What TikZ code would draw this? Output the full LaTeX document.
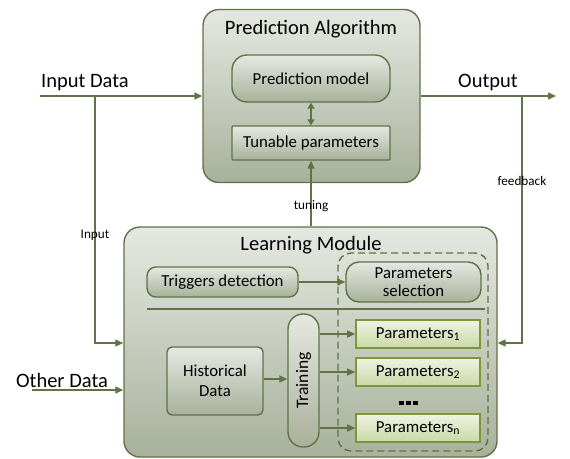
\documentclass[tikz,border=0pt]{standalone}
\usepackage{fontspec}
\setmainfont{Carlito}
\usetikzlibrary{arrows.meta,positioning}
\definecolor{lineC}{HTML}{5F7345}
\definecolor{topC}{HTML}{E5E8E1}
\definecolor{botC}{HTML}{A8B19B}
\definecolor{pline}{HTML}{7A973A}
\definecolor{ptop}{HTML}{EFF3E2}
\definecolor{pbot}{HTML}{CAD8A6}
\tikzset{
  gbox/.style={draw=lineC, line width=1.4pt, top color=topC, bottom color=botC, inner sep=0pt, align=center, text=black},
  pbox/.style={draw=pline, line width=1.6pt, top color=ptop, bottom color=pbot, inner sep=0pt, minimum width=124pt, minimum height=28pt, font=\fontsize{16.8}{19}\selectfont},
  arr/.style={draw=lineC, line width=1.3pt, -{Triangle[length=8pt,width=7pt]}},
  ln/.style={draw=lineC, line width=1.3pt},
  big/.style={font=\fontsize{20.5}{24}\selectfont},
  mid/.style={font=\fontsize{16.8}{19}\selectfont},
  small/.style={font=\fontsize{13.2}{15}\selectfont}
}
\begin{document}
\begin{tikzpicture}[x=1pt,y=-1pt]
\useasboundingbox (0,0) rectangle (570,458);
% Prediction algorithm
\node[gbox, rounded corners=16pt, minimum width=217pt, minimum height=173pt] (PA) at (311.5,96) {};
\node[big] (PAt) at (311,29) {Prediction Algorithm};
\node[gbox, rounded corners=15pt, minimum width=158pt, minimum height=47pt, mid] (PM) at (311,78.5) {Prediction model};
\node[gbox, rounded corners=1pt, minimum width=158pt, minimum height=34pt, mid] (TP) at (311,143) {Tunable parameters};
\draw[ln, {Triangle[length=6pt,width=7pt]}-{Triangle[length=6pt,width=7pt]}] (PM.south) -- (TP.north);
% Learning module
\node[gbox, rounded corners=16pt, minimum width=373pt, minimum height=230pt] (LM) at (310.5,342) {};
\node[big] (LMt) at (311,245) {Learning Module};
\node[draw=lineC, line width=1.4pt, dashed, dash pattern=on 7pt off 4pt, rounded corners=13pt, minimum width=150pt, minimum height=198pt, inner sep=0pt] (DB) at (413,352) {};
\node[gbox, rounded corners=9pt, minimum width=151pt, minimum height=30pt, mid] (TD) at (222.5,282) {Triggers detection};
\node[gbox, rounded corners=13pt, minimum width=135pt, minimum height=40pt, align=center, font=\fontsize{16.8}{18.5}\selectfont] (PS) at (413.5,282) {Parameters\\selection};
\coordinate (SL) at (147,309);
\coordinate (SR) at (485,309);
\draw[ln] (SL) -- (SR);
\node[gbox, rounded corners=5pt, minimum width=96pt, minimum height=68pt, align=center, font=\fontsize{16.8}{20}\selectfont] (HD) at (215,381) {Historical\\Data};
\node[gbox, rounded corners=15pt, minimum width=31pt, minimum height=133pt] (TR) at (303.5,380.5) {};
\node[font=\fontsize{17.5}{19}\selectfont, rotate=90] (TRt) at (TR.center) {Training};
\node[pbox] (P1) at (418,334) {Parameters\textsubscript{1}};
\node[pbox] (P2) at (418,372) {Parameters\textsubscript{2}};
\node[pbox] (Pn) at (418,428) {Parameters\textsubscript{n}};
\node[inner sep=0pt] (dots) at (408,403) {\rule{5pt}{4.5pt}\hspace{2pt}\rule{5pt}{4.5pt}\hspace{2pt}\rule{5pt}{4.5pt}};
\draw[arr] (TD.east) -- (PS.west);
\draw[arr] (HD.east |- 0,379) -- (TR.west |- 0,379);
\draw[arr] (TR.east |- P1.west) -- (P1.west);
\draw[arr] (TR.east |- P2.west) -- (P2.west);
\draw[arr] (TR.east |- Pn.west) -- (Pn.west);
% tuning
\draw[arr] (LM.north -| TP.south) -- (TP.south);
\node[small, inner sep=0pt] (tun) at (311,206) {tuning};
% inputs
\coordinate (IDs) at (40,96);
\coordinate (IDb) at (95,96);
\coordinate (IDd) at (95,343);
\draw[arr] (IDs) -- (PA.west |- IDs);
\draw[arr] (IDb) -- (IDd) -- (LM.west |- IDd);
\node[big] (IDt) at (85,83) {Input Data};
\node[small] (inl) at (95,235) {Input};
\coordinate (ODs) at (32,390);
\draw[arr] (ODs) -- (LM.west |- ODs);
\node[big] (ODt) at (62,380) {Other Data};
% output
\coordinate (OUe) at (556,96);
\coordinate (FBt) at (522,96);
\coordinate (FBb) at (522,343);
\draw[arr] (PA.east |- OUe) -- (OUe);
\draw[arr] (FBt) -- (FBb) -- (LM.east |- FBb);
\node[big] (OUt) at (488,82) {Output};
\node[small] (fbl) at (522,181) {feedback};
\end{tikzpicture}
\end{document}
